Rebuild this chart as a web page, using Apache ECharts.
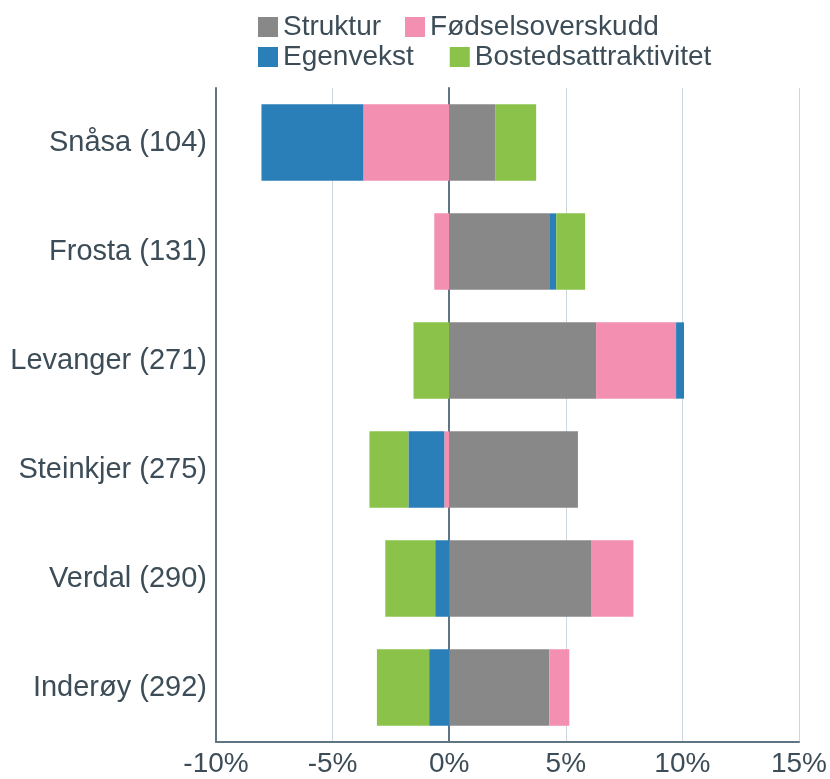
<!DOCTYPE html>
<html lang="no">
<head>
    <meta charset="UTF-8">
    <title>Befolkningsvekst dekomponert</title>
    <script src="https://cdn.jsdelivr.net/npm/echarts@6/dist/echarts.min.js"></script>
    <style>
        html, body { margin: 0; padding: 0; background: #fff; }
        #main { width: 830px; height: 779px; }
    </style>
</head>
<body>
<div id="main"></div>
<script>
    // kommuner (rangering i parentes), ovenfra og ned
    var categories = ['Snåsa (104)', 'Frosta (131)', 'Levanger (271)', 'Steinkjer (275)', 'Verdal (290)', 'Inderøy (292)'];
    // bidrag i prosent
    var struktur = [1.97, 4.29, 6.30, 5.52, 6.11, 4.29];
    var fodselsoverskudd = [-3.68, -0.64, 3.43, -0.21, 1.79, 0.86];
    var egenvekst = [-4.37, 0.30, 0.34, -1.54, -0.60, -0.86];
    var bostedsattraktivitet = [1.76, 1.24, -1.53, -1.67, -2.14, -2.24];
    var xTicks = [-10, -5, 0, 5, 10, 15];

    var textColor = '#3d4d58';
    var font = 'Liberation Sans, Arial, sans-serif';

    var myChart = echarts.init(document.getElementById('main'));

    function bar(name, data, color) {
        return {
            name: name,
            type: 'bar',
            stack: 'total',
            barWidth: '70%',
            data: data,
            itemStyle: { color: color }
        };
    }

    var legendBase = {
        left: 258,
        itemWidth: 20,
        itemHeight: 20,
        icon: 'rect',
        padding: 0,
        textStyle: { color: textColor, fontSize: 28, fontFamily: font }
    };

    var option = {
        animation: false,
        legend: [
            Object.assign({}, legendBase, { top: 13, itemGap: 24, data: ['Struktur', 'Fødselsoverskudd'] }),
            Object.assign({}, legendBase, { top: 43, itemGap: 36, data: ['Egenvekst', 'Bostedsattraktivitet'] })
        ],
        grid: {
            left: 216,
            right: 30,
            top: 88,
            bottom: 37
        },
        xAxis: {
            type: 'value',
            min: xTicks[0],
            max: xTicks[xTicks.length - 1],
            interval: 5,
            axisLine: { show: true, onZero: false, lineStyle: { color: '#5f7583', width: 2 } },
            axisTick: { show: false },
            splitLine: { show: true, lineStyle: { color: '#cdd7de', width: 1 } },
            axisLabel: {
                color: textColor,
                fontSize: 28,
                fontFamily: font,
                margin: 8,
                formatter: '{value}%'
            }
        },
        yAxis: [{
            type: 'category',
            inverse: true,
            data: categories,
            axisLine: { show: true, onZero: false, lineStyle: { color: '#5f7583', width: 2 } },
            axisTick: { show: false },
            axisLabel: {
                color: textColor,
                fontSize: 29,
                fontFamily: font,
                margin: 9
            }
        }, {
            // nullinjen
            type: 'category',
            inverse: true,
            position: 'left',
            data: categories,
            axisLine: { show: true, onZero: true, lineStyle: { color: '#5f7583', width: 2 } },
            axisTick: { show: false },
            axisLabel: { show: false }
        }],
        series: [
            bar('Struktur', struktur, '#888888'),
            bar('Fødselsoverskudd', fodselsoverskudd, '#f38fb1'),
            bar('Egenvekst', egenvekst, '#2a7fb8'),
            bar('Bostedsattraktivitet', bostedsattraktivitet, '#8bc34a')
        ]
    };

    myChart.setOption(option);
</script>
</body>
</html>
